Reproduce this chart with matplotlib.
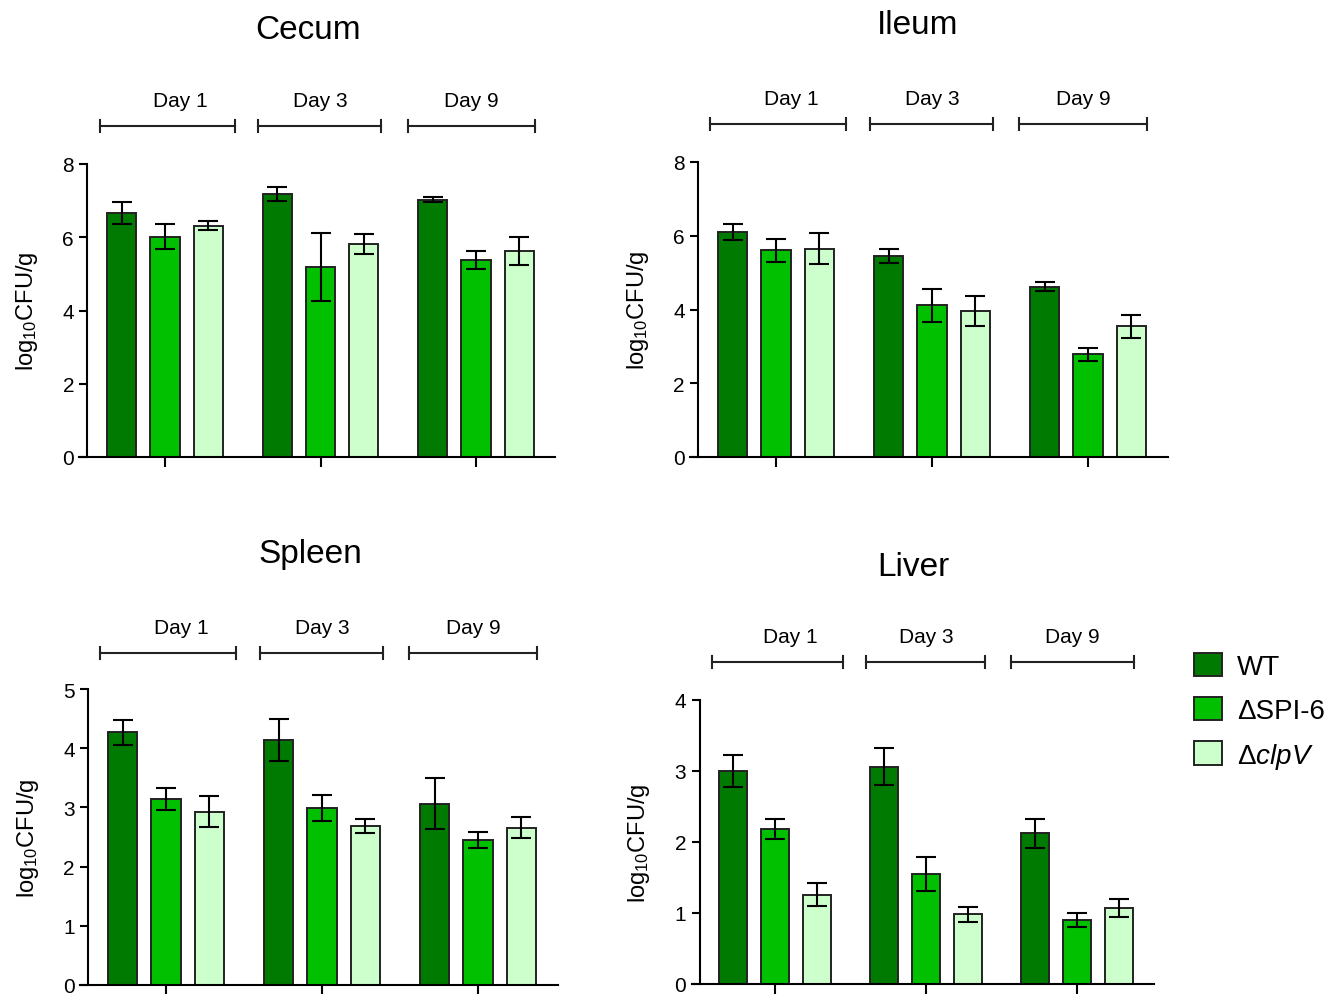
import numpy as np
import matplotlib
matplotlib.use("Agg")
import matplotlib.pyplot as plt

plt.rcParams['font.family'] = ['Liberation Sans', 'DejaVu Sans']
plt.rcParams['mathtext.fontset'] = 'custom'
plt.rcParams['mathtext.rm'] = 'Liberation Sans'
plt.rcParams['mathtext.it'] = 'Liberation Sans:italic'

days = ['Day 1', 'Day 3', 'Day 9']
strains = ['WT', 'ΔSPI-6', r'Δ$\it{clpV}$']
colors = ['#007a00', '#00c000', '#ccffcc']

# means per organ: rows = strain (WT, SPI-6, clpV), cols = day
cecum = [[6.65, 7.17, 7.02], [6.02, 5.19, 5.38], [6.32, 5.81, 5.62]]
cecum_err = [[0.30, 0.19, 0.07], [0.34, 0.93, 0.24], [0.12, 0.28, 0.39]]
ileum = [[6.11, 5.46, 4.62], [5.61, 4.11, 2.78], [5.65, 3.96, 3.54]]
ileum_err = [[0.22, 0.19, 0.13], [0.31, 0.45, 0.17], [0.42, 0.41, 0.32]]
spleen = [[4.27, 4.14, 3.06], [3.14, 2.99, 2.45], [2.93, 2.69, 2.66]]
spleen_err = [[0.21, 0.35, 0.43], [0.18, 0.22, 0.14], [0.26, 0.12, 0.18]]
liver = [[3.00, 3.06, 2.12], [2.18, 1.55, 0.90], [1.26, 0.98, 1.07]]
liver_err = [[0.22, 0.26, 0.21], [0.14, 0.24, 0.10], [0.16, 0.10, 0.13]]

W, H = 1335, 995
fig = plt.figure(figsize=(W / 100, H / 100), dpi=100)

# layout in pixels: group-0 centre x, px per group, y of 0, y of top, ymax, bracket y, label y, title x / baseline y
panels = [
    ('Cecum', cecum, cecum_err, 165, 155.5, 458, 165, 8, 127, 102, (308, 39)),
    ('Ileum', ileum, ileum_err, 776, 156, 458, 163, 8, 125, 100, (918, 34)),
    ('Spleen', spleen, spleen_err, 166, 156, 986, 690, 5, 654, 628, (310, 563)),
    ('Liver', liver, liver_err, 775, 151, 985, 701, 4, 663, 638, (913, 576)),
]

xl, xr = -0.55, 2.51
offs = [-0.277, 0, 0.277]
bw = 0.187
brk = [(-0.42, 0.45), (-0.40, 0.39), (-0.44, 0.38)]
lab_off = [0.1, 0.0, -0.03]

handles = []
for name, vals, errs, c0, sp, y0, ytop, ymax, by, ly, (tx, ty) in panels:
    left = c0 + xl * sp
    ax = fig.add_axes([left / W, 1 - y0 / H, (xr - xl) * sp / W, (y0 - ytop) / H])
    x = np.arange(3)
    hs = []
    for i in range(3):
        b = ax.bar(x + offs[i], vals[i], bw, color=colors[i], edgecolor='#222222', linewidth=1.4, zorder=2)
        ax.errorbar(x + offs[i], vals[i], yerr=errs[i], fmt='none', ecolor='black',
                    elinewidth=1.5, capsize=7, capthick=1.5, zorder=3)
        hs.append(b)
    handles = hs
    ax.set_xlim(xl, xr)
    ax.set_ylim(0, ymax)
    ax.set_yticks(range(0, ymax + 1, 2 if ymax == 8 else 1))
    ax.set_xticks(x)
    ax.set_xticklabels([])
    for s in ['top', 'right']:
        ax.spines[s].set_visible(False)
    ax.spines['left'].set_position(('data', -0.5))
    ax.spines['left'].set_linewidth(1.5)
    ax.spines['bottom'].set_linewidth(1.5)
    ax.tick_params(axis='both', direction='out', length=6, width=1.5, labelsize=15)
    ax.tick_params(axis='x', length=7)
    ax.set_ylabel(r'log$_{10}$CFU/g', fontsize=17, labelpad=16)

    # day brackets above each group
    yb = (y0 - by) / (y0 - ytop)
    yl = (y0 - ly) / (y0 - ytop)
    tr = ax.get_xaxis_transform()
    dv = 6 / (y0 - ytop)
    for g in range(3):
        a, b2 = g + brk[g][0], g + brk[g][1]
        ax.plot([a, b2], [yb, yb], color='#222222', lw=1.5, transform=tr, clip_on=False)
        for e in (a, b2):
            ax.plot([e, e], [yb - dv, yb + dv], color='#222222', lw=1.5, transform=tr, clip_on=False)
        ax.text(g + lab_off[g], yl, days[g], transform=tr, ha='center', va='center', fontsize=15)

    fig.text(tx / W, 1 - ty / H, name, ha='center', va='baseline', fontsize=24)

fig.legend(handles, strains, loc='upper left', bbox_to_anchor=(1194 / W, 1 - 654 / H),
           frameon=False, fontsize=20, handlelength=1.0, handleheight=0.9,
           handletextpad=0.55, labelspacing=0.6, borderpad=0, borderaxespad=0)

fig.savefig('out.png', dpi=100)
